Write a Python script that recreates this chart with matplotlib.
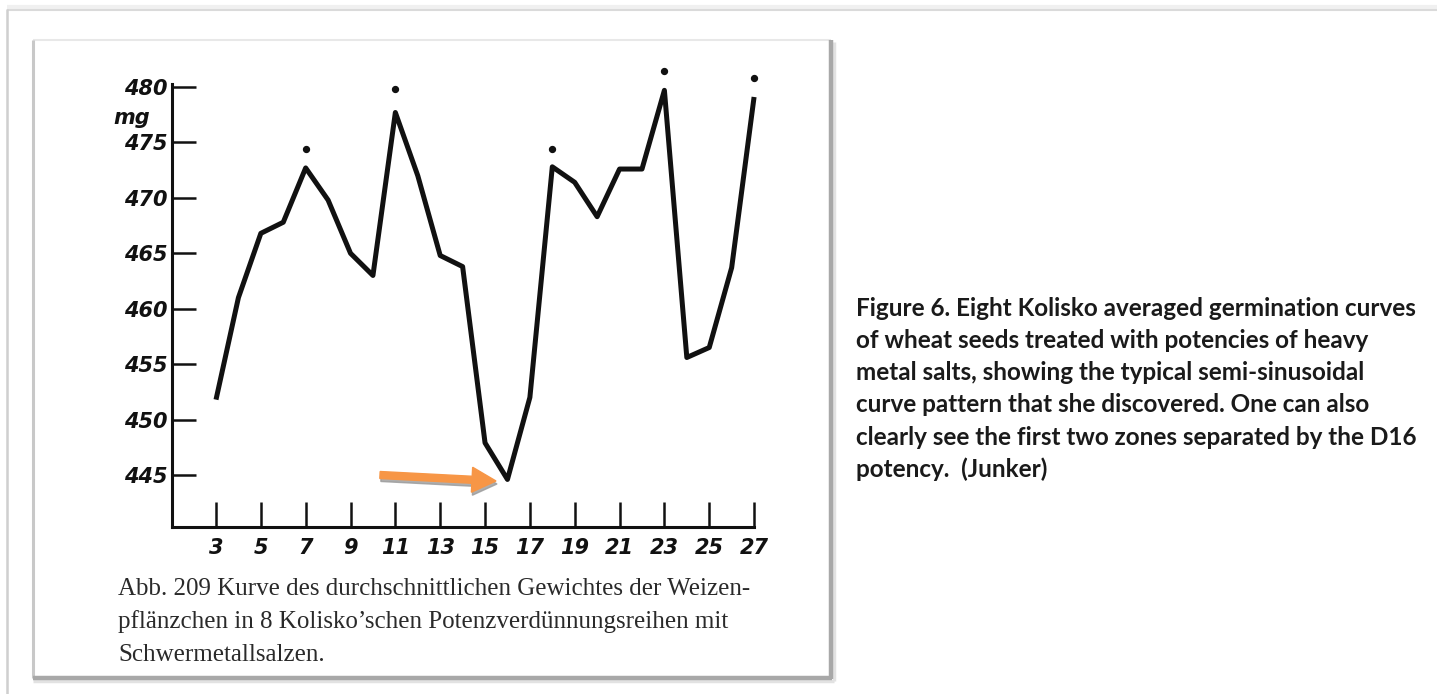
import matplotlib
matplotlib.use("Agg")
import matplotlib.pyplot as plt
from matplotlib.patches import Rectangle, FancyArrow

# ---------------- data ----------------
potency = [3, 4, 5, 6, 7, 8, 9, 10, 11, 12, 13, 14, 15, 16, 17, 18, 19, 20,
           21, 22, 23, 24, 25, 26, 27]
weight_mg = [451.8, 461.0, 466.8, 467.8, 472.7, 469.8, 465.0, 463.0, 477.7,
             472.0, 464.8, 463.8, 447.9, 444.6, 452.0, 472.8, 471.4, 468.3,
             472.6, 472.6, 479.7, 455.6, 456.5, 463.7, 479.1]
peak_dot_x = [7, 11, 18, 23, 27]
peak_dot_y = [474.4, 479.8, 474.4, 481.4, 480.8]
x_ticks = [3, 5, 7, 9, 11, 13, 15, 17, 19, 21, 23, 25, 27]
y_ticks = [445, 450, 455, 460, 465, 470, 475, 480]
y_unit = "mg"

caption_lines = [
    "Abb. 209 Kurve des durchschnittlichen Gewichtes der Weizen-",
    "pflänzchen in 8 Kolisko\u2019schen Potenzverdünnungsreihen mit",
    "Schwermetallsalzen.",
]
side_lines = [
    "Figure 6. Eight Kolisko averaged germination curves",
    "of wheat seeds treated with potencies of heavy",
    "metal salts, showing the typical semi-sinusoidal",
    "curve pattern that she discovered. One can also",
    "clearly see the first two zones separated by the D16",
    "potency.  (Junker)",
]

# ---------------- figure ----------------
W, H = 1437, 694
fig = plt.figure(figsize=(W / 100, H / 100), dpi=100)
fig.patch.set_facecolor("white")

# background axes in pixel coordinates
bg = fig.add_axes([0, 0, 1, 1], zorder=0)
bg.set_xlim(0, W)
bg.set_ylim(H, 0)
bg.axis("off")

# outer screenshot frame
bg.plot([7, W], [7, 7], color="#f0f0f0", lw=3, solid_capstyle="butt")
bg.plot([7, W], [9.5, 9.5], color="#dadada", lw=1.5, solid_capstyle="butt")
bg.plot([7, 7], [9, H], color="#cfcfcf", lw=1.8, solid_capstyle="butt")

# inner panel with shadow
bg.add_patch(Rectangle((33, 40), 798, 638, facecolor="white", edgecolor="none"))
bg.plot([33, 831], [40, 40], color="#e8e8e8", lw=1.5, solid_capstyle="butt")
bg.plot([33, 33], [40, 678], color="#c8c8c8", lw=2.2, solid_capstyle="butt")
bg.plot([834, 834], [42, 681], color="#e2e2e2", lw=2.5, solid_capstyle="butt")
bg.plot([33, 834], [681, 681], color="#e2e2e2", lw=2.5, solid_capstyle="butt")
bg.plot([831, 831], [40, 679], color="#a8a8a8", lw=3.2, solid_capstyle="butt")
bg.plot([33, 832], [678, 678], color="#a8a8a8", lw=3.2, solid_capstyle="butt")

# ---------------- main chart axes ----------------
px_left, px_right, px_top, px_bot = 172, 775, 65, 527
x_px0, x_scale = 216.0, 22.42    # pixel of x=3, px per unit
y_px0, y_scale = 87.0, 11.086    # pixel of y=480, px per mg

ax = fig.add_axes([px_left / W, 1 - px_bot / H,
                   (px_right - px_left) / W, (px_bot - px_top) / H], zorder=2)
ax.patch.set_alpha(0)
ax.set_xlim(3 + (px_left - x_px0) / x_scale, 3 + (px_right - x_px0) / x_scale)
ax.set_ylim(480 - (px_bot - y_px0) / y_scale, 480 + (y_px0 - px_top) / y_scale)

for s in ("top", "right"):
    ax.spines[s].set_visible(False)
for s in ("left", "bottom"):
    ax.spines[s].set_linewidth(2.2)
    ax.spines[s].set_color("#111111")
ax.spines["left"].set_bounds(ax.get_ylim()[0], 480.3)
ax.spines["bottom"].set_bounds(ax.get_xlim()[0], 27)

ax.plot(potency, weight_mg, color="#111111", lw=3.6,
        solid_joinstyle="round", solid_capstyle="butt")
ax.scatter(peak_dot_x, peak_dot_y, s=18, color="#111111", zorder=3)

lab_font = dict(family="DejaVu Sans", style="italic", weight="bold", size=15)
ax.set_xticks(x_ticks)
ax.set_xticklabels([str(v) for v in x_ticks], **lab_font)
ax.set_yticks(y_ticks)
ax.set_yticklabels([str(v) for v in y_ticks], **lab_font)
ax.tick_params(axis="x", direction="in", length=18, width=1.8, pad=8,
               colors="#111111")
ax.tick_params(axis="y", direction="in", length=17, width=1.8, pad=3,
               colors="#111111")

fig.text(150 / W, 1 - 118 / H, y_unit, ha="right", va="center",
         color="#111111", **lab_font)

# orange arrow pointing at the D16 minimum (pixel coords)
arrow_kw = dict(width=7, head_width=25, head_length=24,
                length_includes_head=True)
bg.add_patch(FancyArrow(381, 478, 116, 6, color="#9a9a9a", alpha=0.8,
                        zorder=3, **arrow_kw))
bg.add_patch(FancyArrow(380, 475, 116, 6, color="#F79646",
                        zorder=4, **arrow_kw))

# caption below chart
for i, line in enumerate(caption_lines):
    fig.text(118 / W, 1 - (589 + i * 33) / H, line, ha="left", va="center",
             family="Liberation Serif", size=18, color="#2a2a2a")

# side description
for i, line in enumerate(side_lines):
    fig.text(856 / W, 1 - (308 + i * 32.3) / H, line, ha="left", va="center",
             family="Lato", weight="bold", size=17.5, color="#1a1a1a")

fig.savefig("out.png", dpi=100, facecolor="white")
